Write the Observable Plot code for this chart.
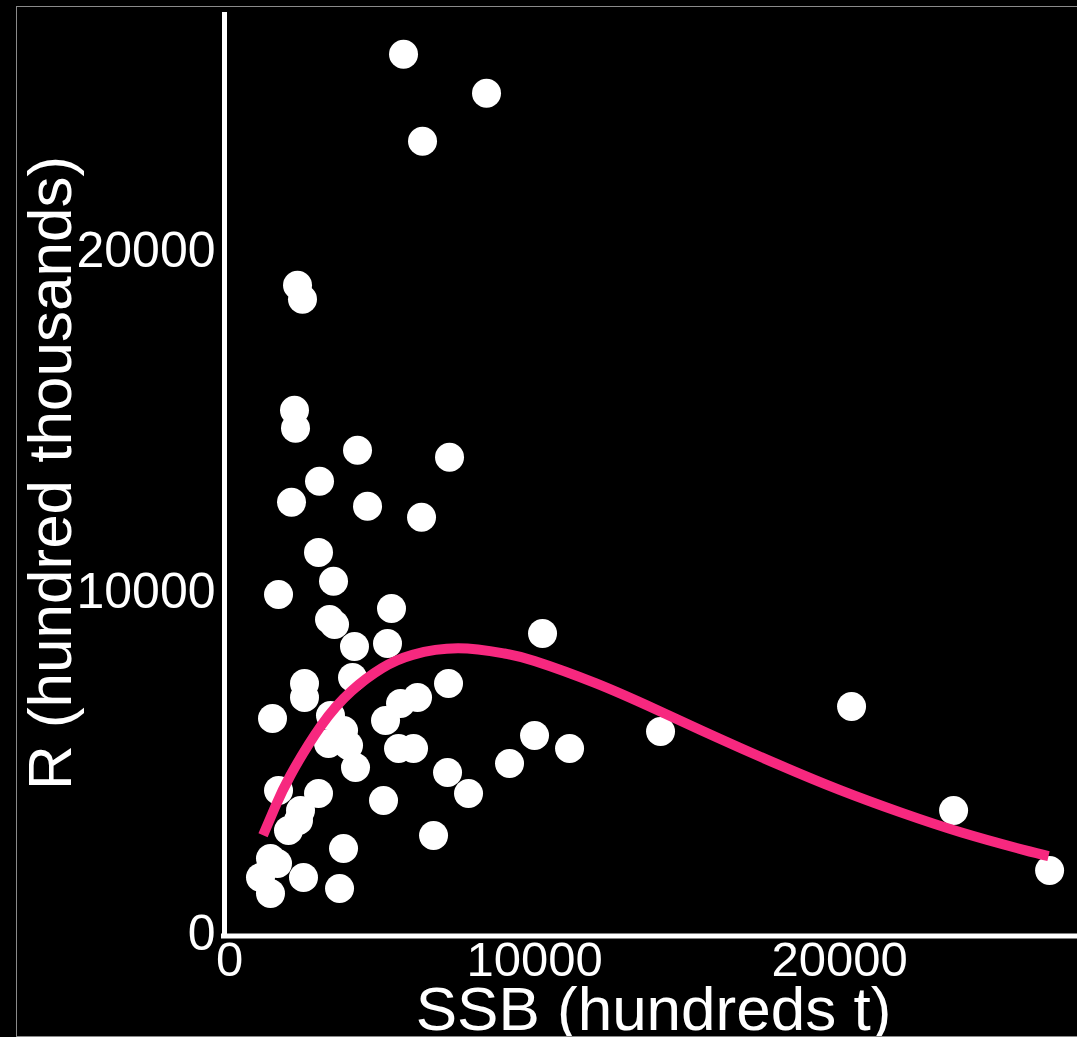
<!DOCTYPE html>
<html><head><meta charset="utf-8">
<script src="https://cdn.jsdelivr.net/npm/d3@7"></script>
<script src="https://cdn.jsdelivr.net/npm/@observablehq/plot@0.6"></script>
<style>
html,body{margin:0;padding:0;background:#000;}
#chart{position:relative;width:1077px;height:1037px;overflow:hidden;background:#000;}
#chart svg{position:absolute;left:0;top:0;}
#frame{position:absolute;left:16px;top:6px;width:1100px;height:1029px;border:1px solid #8a8a8a;pointer-events:none;}
</style></head><body><div id="chart"><div id="frame"></div></div>
<script>
const ssb = [5705, 8426, 6328, 2230, 2393, 2131, 2164, 4197, 7213, 2951,
  2033, 4525, 6295, 2918, 3410, 1607, 5311, 3279, 3443, 4098,
  5180, 10262, 2459, 2459, 4033, 7180, 6164, 5607, 5115, 1410,
  3311, 3738, 3902, 3246, 4131, 5541, 6033, 7148, 7836, 5049,
  6689, 9180, 10000, 11148, 14131, 20393, 23738, 26885, 1607, 2918,
  2328, 2262, 1934, 1344, 1016, 1574, 1344, 2426, 3738, 3607];
const recruits = [25778, 24634, 23226, 19003, 18593, 15338, 14810, 14164, 13959, 13255,
  12640, 12522, 12200, 11173, 10323, 9941, 9531, 9208, 9062, 8417,
  8505, 8798, 7332, 6921, 7507, 7332, 6921, 6745, 6246, 6305,
  6393, 5953, 5513, 5572, 4868, 5425, 5425, 4721, 4106, 3900,
  2874, 4985, 5807, 5425, 5924, 6657, 3607, 1848, 4194, 4106,
  3607, 3314, 3021, 2199, 1642, 2053, 1173, 1642, 2493, 1320];
const fitSsb = [1100, 1500, 2000, 3000, 4000, 5000, 6000, 7500, 9000, 10000, 12000, 14000, 16000, 18000, 20000, 22000, 24000, 26000, 26850];
const fitR = [2880, 3720, 4640, 6090, 7110, 7780, 8170, 8360, 8210, 7990, 7340, 6560, 5740, 4950, 4210, 3550, 2960, 2460, 2270];
const xTicks = [0, 10000, 20000];
const yTicks = [0, 10000, 20000];
const xTitle = "SSB (hundreds t)";
const yTitle = "R (hundred thousands)";

const points = ssb.map((s, i) => ({ssb: s, r: recruits[i]}));
const fit = fitSsb.map((s, i) => ({ssb: s, r: fitR[i]}));
const font = "'Liberation Sans', Arial, Helvetica, sans-serif";

const chart = Plot.plot({
  width: 1077,
  height: 1037,
  marginLeft: 229,
  marginRight: 0,
  marginTop: 12,
  marginBottom: 104,
  style: {background: "#000", color: "#fff", fontFamily: font, overflow: "visible"},
  x: {domain: [0, 27800]},
  y: {domain: [0, 27000]},
  marks: [
    Plot.ruleX([0], {dx: -5, stroke: "#fff", strokeWidth: 5, insetBottom: -5}),
    Plot.ruleY([0], {dy: 2.5, stroke: "#fff", strokeWidth: 5, insetLeft: -8}),
    Plot.axisX({ticks: xTicks, tickFormat: d => String(d), tickSize: 0, tickPadding: 8, fontSize: 49, label: null, fill: "#fff"}),
    Plot.axisY({ticks: yTicks, tickFormat: d => String(d), tickSize: 0, tickPadding: 14, fontSize: 50, label: null, fill: "#fff"}),
    Plot.dot(points, {x: "ssb", y: "r", r: 14.5, fill: "#fff", stroke: null}),
    Plot.line(fit, {x: "ssb", y: "r", stroke: "#f7287f", strokeWidth: 10, curve: "natural", strokeLinecap: "butt"}),
    Plot.text([xTitle], {frameAnchor: "bottom", textAnchor: "middle", lineAnchor: "bottom", dy: 96, fontSize: 62, fill: "#fff"}),
    Plot.text([yTitle], {frameAnchor: "left", textAnchor: "middle", rotate: -90, lineAnchor: "bottom", dx: -159, fontSize: 62, fill: "#fff"})
  ]
});
document.getElementById("chart").prepend(chart);
</script>
</body></html>
